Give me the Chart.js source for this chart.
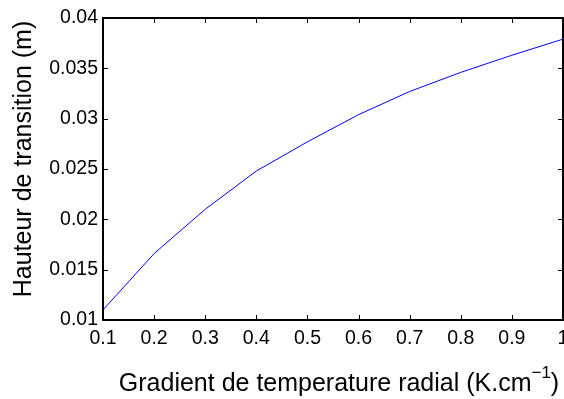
<!DOCTYPE html>
<html>
<head>
<meta charset="utf-8">
<script src="https://cdn.jsdelivr.net/npm/chart.js@4"></script>
<style>
  html, body { margin: 0; padding: 0; background: #fff; }
  canvas { display: block; }
</style>
</head>
<body>
<canvas id="chart" width="564" height="399"></canvas>
<script>
// values
const gradient = [0.1, 0.2, 0.3, 0.4, 0.5, 0.6, 0.7, 0.8, 0.9, 1.0];
const hauteur = [0.0110, 0.0166, 0.0210, 0.0248, 0.0277, 0.0304, 0.0327, 0.0346, 0.0363, 0.0379];

const xTickValues = [0.1, 0.2, 0.3, 0.4, 0.5, 0.6, 0.7, 0.8, 0.9, 1];
const xTickLabels = ['0.1', '0.2', '0.3', '0.4', '0.5', '0.6', '0.7', '0.8', '0.9', '1'];
const yTickValues = [0.01, 0.015, 0.02, 0.025, 0.03, 0.035, 0.04];
const yTickLabels = ['0.01', '0.015', '0.02', '0.025', '0.03', '0.035', '0.04'];

const FONT = '"Liberation Sans", Arial, Helvetica, sans-serif';

// matlab style box with inward ticks + axis titles (x one has a superscript)
const matlabBox = {
  id: 'matlabBox',
  afterDraw(chart) {
    const ctx = chart.ctx;
    const a = chart.chartArea;
    const xs = chart.scales.x, ys = chart.scales.y;
    const tick = 5;
    ctx.save();
    ctx.strokeStyle = '#000';
    ctx.lineWidth = 1;
    ctx.beginPath();
    xTickValues.forEach(v => {
      const px = Math.round(xs.getPixelForValue(v)) + 0.5;
      ctx.moveTo(px, a.bottom); ctx.lineTo(px, a.bottom - tick);
      ctx.moveTo(px, a.top); ctx.lineTo(px, a.top + tick);
    });
    yTickValues.forEach(v => {
      const py = Math.round(ys.getPixelForValue(v)) + 0.5;
      ctx.moveTo(a.left, py); ctx.lineTo(a.left + tick, py);
      ctx.moveTo(a.right, py); ctx.lineTo(a.right - tick, py);
    });
    ctx.stroke();
    ctx.lineWidth = 2;
    ctx.strokeRect(a.left, a.top, a.right - a.left, a.bottom - a.top);

    ctx.fillStyle = '#000';

    // y axis title
    ctx.save();
    ctx.translate(24, 159);
    ctx.rotate(-Math.PI / 2);
    ctx.font = '25px ' + FONT;
    ctx.textAlign = 'center';
    ctx.textBaseline = 'middle';
    ctx.fillText('Hauteur de transition (m)', 0, 0);
    ctx.restore();

    // x axis title
    const main = 'Gradient de temperature radial (K.cm';
    const sup = '\u22121';
    ctx.textBaseline = 'alphabetic';
    ctx.textAlign = 'left';
    ctx.font = '25px ' + FONT;
    const w1 = ctx.measureText(main).width;
    const w3 = ctx.measureText(')').width;
    ctx.font = '17px ' + FONT;
    const w2 = ctx.measureText(sup).width;
    let x = 339 - (w1 + w2 + w3) / 2;
    const base = 391;
    ctx.font = '25px ' + FONT;
    ctx.fillText(main, x, base);
    x += w1;
    ctx.font = '17px ' + FONT;
    ctx.fillText(sup, x, base - 13);
    x += w2;
    ctx.font = '25px ' + FONT;
    ctx.fillText(')', x, base);
    ctx.restore();
  }
};

new Chart(document.getElementById('chart'), {
  type: 'line',
  data: {
    datasets: [{
      data: gradient.map((g, i) => ({ x: g, y: hauteur[i] })),
      borderColor: '#0000ff',
      borderWidth: 1,
      pointRadius: 0,
      tension: 0,
      fill: false
    }]
  },
  options: {
    responsive: false,
    animation: false,
    devicePixelRatio: 1,
    layout: { padding: { top: 18, right: 1, left: 0, bottom: 0 } },
    plugins: { legend: { display: false }, tooltip: { enabled: false } },
    scales: {
      x: {
        type: 'linear',
        min: 0.1,
        max: 1,
        afterBuildTicks: s => { s.ticks = xTickValues.map(v => ({ value: v })); },
        afterFit: s => { s.height = 79; s.paddingLeft = 0; s.paddingRight = 0; },
        grid: { display: false, drawTicks: false },
        border: { display: false },
        ticks: {
          padding: 7,
          maxRotation: 0,
          autoSkip: false,
          color: '#000',
          font: { family: FONT, size: 19.5 },
          callback: (v, i) => xTickLabels[i]
        }
      },
      y: {
        min: 0.01,
        max: 0.04,
        afterBuildTicks: s => { s.ticks = yTickValues.map(v => ({ value: v })); },
        afterFit: s => { s.width = 103; },
        grid: { display: false, drawTicks: false },
        border: { display: false },
        ticks: {
          padding: 5,
          autoSkip: false,
          color: '#000',
          font: { family: FONT, size: 19.5 },
          callback: (v, i) => yTickLabels[i]
        }
      }
    }
  },
  plugins: [matlabBox]
});
</script>
</body>
</html>
